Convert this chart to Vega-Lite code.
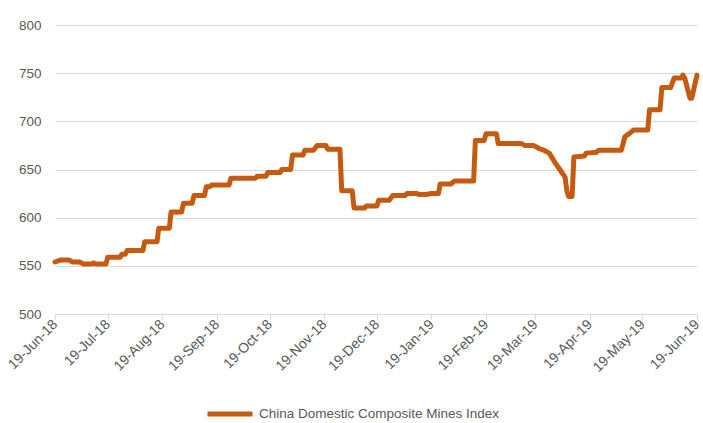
{
  "$schema": "https://vega.github.io/schema/vega-lite/v6.json",
  "width": 642,
  "height": 289,
  "autosize": {"type": "none"},
  "padding": {"left": 55, "top": 25, "right": 6, "bottom": 109},
  "background": "white",
  "config": {"view": {"stroke": null}, "font": "Liberation Sans"},
  "data": {"values": [
    {"date": "2018-06-19", "value": 554, "series": "China Domestic Composite Mines Index"},
    {"date": "2018-06-22", "value": 556, "series": "China Domestic Composite Mines Index"},
    {"date": "2018-06-27", "value": 556, "series": "China Domestic Composite Mines Index"},
    {"date": "2018-06-29", "value": 554, "series": "China Domestic Composite Mines Index"},
    {"date": "2018-07-03", "value": 554, "series": "China Domestic Composite Mines Index"},
    {"date": "2018-07-05", "value": 552, "series": "China Domestic Composite Mines Index"},
    {"date": "2018-07-10", "value": 552, "series": "China Domestic Composite Mines Index"},
    {"date": "2018-07-11", "value": 553, "series": "China Domestic Composite Mines Index"},
    {"date": "2018-07-12", "value": 552, "series": "China Domestic Composite Mines Index"},
    {"date": "2018-07-18", "value": 552, "series": "China Domestic Composite Mines Index"},
    {"date": "2018-07-19", "value": 559, "series": "China Domestic Composite Mines Index"},
    {"date": "2018-07-26", "value": 559, "series": "China Domestic Composite Mines Index"},
    {"date": "2018-07-27", "value": 562, "series": "China Domestic Composite Mines Index"},
    {"date": "2018-07-29", "value": 562, "series": "China Domestic Composite Mines Index"},
    {"date": "2018-07-30", "value": 566, "series": "China Domestic Composite Mines Index"},
    {"date": "2018-08-08", "value": 566, "series": "China Domestic Composite Mines Index"},
    {"date": "2018-08-09", "value": 575, "series": "China Domestic Composite Mines Index"},
    {"date": "2018-08-16", "value": 575, "series": "China Domestic Composite Mines Index"},
    {"date": "2018-08-17", "value": 589, "series": "China Domestic Composite Mines Index"},
    {"date": "2018-08-23", "value": 589, "series": "China Domestic Composite Mines Index"},
    {"date": "2018-08-24", "value": 606, "series": "China Domestic Composite Mines Index"},
    {"date": "2018-08-30", "value": 606, "series": "China Domestic Composite Mines Index"},
    {"date": "2018-08-31", "value": 615, "series": "China Domestic Composite Mines Index"},
    {"date": "2018-09-05", "value": 615, "series": "China Domestic Composite Mines Index"},
    {"date": "2018-09-06", "value": 623, "series": "China Domestic Composite Mines Index"},
    {"date": "2018-09-12", "value": 623, "series": "China Domestic Composite Mines Index"},
    {"date": "2018-09-13", "value": 632, "series": "China Domestic Composite Mines Index"},
    {"date": "2018-09-15", "value": 632, "series": "China Domestic Composite Mines Index"},
    {"date": "2018-09-16", "value": 634, "series": "China Domestic Composite Mines Index"},
    {"date": "2018-09-26", "value": 634, "series": "China Domestic Composite Mines Index"},
    {"date": "2018-09-27", "value": 641, "series": "China Domestic Composite Mines Index"},
    {"date": "2018-10-11", "value": 641, "series": "China Domestic Composite Mines Index"},
    {"date": "2018-10-12", "value": 643, "series": "China Domestic Composite Mines Index"},
    {"date": "2018-10-17", "value": 643, "series": "China Domestic Composite Mines Index"},
    {"date": "2018-10-18", "value": 647, "series": "China Domestic Composite Mines Index"},
    {"date": "2018-10-25", "value": 647, "series": "China Domestic Composite Mines Index"},
    {"date": "2018-10-26", "value": 650, "series": "China Domestic Composite Mines Index"},
    {"date": "2018-10-31", "value": 650, "series": "China Domestic Composite Mines Index"},
    {"date": "2018-11-01", "value": 665, "series": "China Domestic Composite Mines Index"},
    {"date": "2018-11-07", "value": 665, "series": "China Domestic Composite Mines Index"},
    {"date": "2018-11-08", "value": 670, "series": "China Domestic Composite Mines Index"},
    {"date": "2018-11-13", "value": 670, "series": "China Domestic Composite Mines Index"},
    {"date": "2018-11-15", "value": 675, "series": "China Domestic Composite Mines Index"},
    {"date": "2018-11-20", "value": 675, "series": "China Domestic Composite Mines Index"},
    {"date": "2018-11-21", "value": 671, "series": "China Domestic Composite Mines Index"},
    {"date": "2018-11-28", "value": 671, "series": "China Domestic Composite Mines Index"},
    {"date": "2018-11-29", "value": 628, "series": "China Domestic Composite Mines Index"},
    {"date": "2018-12-05", "value": 628, "series": "China Domestic Composite Mines Index"},
    {"date": "2018-12-06", "value": 610, "series": "China Domestic Composite Mines Index"},
    {"date": "2018-12-12", "value": 610, "series": "China Domestic Composite Mines Index"},
    {"date": "2018-12-13", "value": 612, "series": "China Domestic Composite Mines Index"},
    {"date": "2018-12-19", "value": 612, "series": "China Domestic Composite Mines Index"},
    {"date": "2018-12-20", "value": 618, "series": "China Domestic Composite Mines Index"},
    {"date": "2018-12-26", "value": 618, "series": "China Domestic Composite Mines Index"},
    {"date": "2018-12-28", "value": 623, "series": "China Domestic Composite Mines Index"},
    {"date": "2019-01-04", "value": 623, "series": "China Domestic Composite Mines Index"},
    {"date": "2019-01-05", "value": 625, "series": "China Domestic Composite Mines Index"},
    {"date": "2019-01-11", "value": 625, "series": "China Domestic Composite Mines Index"},
    {"date": "2019-01-12", "value": 624, "series": "China Domestic Composite Mines Index"},
    {"date": "2019-01-16", "value": 624, "series": "China Domestic Composite Mines Index"},
    {"date": "2019-01-19", "value": 625, "series": "China Domestic Composite Mines Index"},
    {"date": "2019-01-23", "value": 625, "series": "China Domestic Composite Mines Index"},
    {"date": "2019-01-24", "value": 635, "series": "China Domestic Composite Mines Index"},
    {"date": "2019-01-30", "value": 635, "series": "China Domestic Composite Mines Index"},
    {"date": "2019-02-01", "value": 638, "series": "China Domestic Composite Mines Index"},
    {"date": "2019-02-12", "value": 638, "series": "China Domestic Composite Mines Index"},
    {"date": "2019-02-13", "value": 680, "series": "China Domestic Composite Mines Index"},
    {"date": "2019-02-18", "value": 680, "series": "China Domestic Composite Mines Index"},
    {"date": "2019-02-19", "value": 687, "series": "China Domestic Composite Mines Index"},
    {"date": "2019-02-25", "value": 687, "series": "China Domestic Composite Mines Index"},
    {"date": "2019-02-26", "value": 677, "series": "China Domestic Composite Mines Index"},
    {"date": "2019-03-11", "value": 677, "series": "China Domestic Composite Mines Index"},
    {"date": "2019-03-13", "value": 675, "series": "China Domestic Composite Mines Index"},
    {"date": "2019-03-18", "value": 675, "series": "China Domestic Composite Mines Index"},
    {"date": "2019-03-21", "value": 672, "series": "China Domestic Composite Mines Index"},
    {"date": "2019-03-24", "value": 670, "series": "China Domestic Composite Mines Index"},
    {"date": "2019-03-27", "value": 667, "series": "China Domestic Composite Mines Index"},
    {"date": "2019-03-30", "value": 658, "series": "China Domestic Composite Mines Index"},
    {"date": "2019-04-02", "value": 650, "series": "China Domestic Composite Mines Index"},
    {"date": "2019-04-05", "value": 642, "series": "China Domestic Composite Mines Index"},
    {"date": "2019-04-06", "value": 628, "series": "China Domestic Composite Mines Index"},
    {"date": "2019-04-07", "value": 622, "series": "China Domestic Composite Mines Index"},
    {"date": "2019-04-09", "value": 622, "series": "China Domestic Composite Mines Index"},
    {"date": "2019-04-10", "value": 663, "series": "China Domestic Composite Mines Index"},
    {"date": "2019-04-16", "value": 664, "series": "China Domestic Composite Mines Index"},
    {"date": "2019-04-17", "value": 667, "series": "China Domestic Composite Mines Index"},
    {"date": "2019-04-23", "value": 668, "series": "China Domestic Composite Mines Index"},
    {"date": "2019-04-24", "value": 670, "series": "China Domestic Composite Mines Index"},
    {"date": "2019-05-07", "value": 670, "series": "China Domestic Composite Mines Index"},
    {"date": "2019-05-09", "value": 684, "series": "China Domestic Composite Mines Index"},
    {"date": "2019-05-12", "value": 688, "series": "China Domestic Composite Mines Index"},
    {"date": "2019-05-14", "value": 691, "series": "China Domestic Composite Mines Index"},
    {"date": "2019-05-22", "value": 691, "series": "China Domestic Composite Mines Index"},
    {"date": "2019-05-23", "value": 712, "series": "China Domestic Composite Mines Index"},
    {"date": "2019-05-29", "value": 712, "series": "China Domestic Composite Mines Index"},
    {"date": "2019-05-30", "value": 735, "series": "China Domestic Composite Mines Index"},
    {"date": "2019-06-04", "value": 735, "series": "China Domestic Composite Mines Index"},
    {"date": "2019-06-06", "value": 745, "series": "China Domestic Composite Mines Index"},
    {"date": "2019-06-10", "value": 745, "series": "China Domestic Composite Mines Index"},
    {"date": "2019-06-11", "value": 748, "series": "China Domestic Composite Mines Index"},
    {"date": "2019-06-12", "value": 745, "series": "China Domestic Composite Mines Index"},
    {"date": "2019-06-15", "value": 724, "series": "China Domestic Composite Mines Index"},
    {"date": "2019-06-16", "value": 724, "series": "China Domestic Composite Mines Index"},
    {"date": "2019-06-19", "value": 748, "series": "China Domestic Composite Mines Index"}
  ]},
  "mark": {"type": "line", "strokeWidth": 5, "strokeJoin": "round", "strokeCap": "round"},
  "encoding": {
    "x": {
      "field": "date", "type": "temporal",
      "scale": {"type": "utc", "domain": [{"year": 2018, "month": 6, "date": 19, "utc": true}, {"year": 2019, "month": 6, "date": 19, "utc": true}]},
      "axis": {
        "title": null,
        "grid": false,
        "values": [
          {"year": 2018, "month": 6, "date": 19, "utc": true},
          {"year": 2018, "month": 7, "date": 19, "utc": true},
          {"year": 2018, "month": 8, "date": 19, "utc": true},
          {"year": 2018, "month": 9, "date": 19, "utc": true},
          {"year": 2018, "month": 10, "date": 19, "utc": true},
          {"year": 2018, "month": 11, "date": 19, "utc": true},
          {"year": 2018, "month": 12, "date": 19, "utc": true},
          {"year": 2019, "month": 1, "date": 19, "utc": true},
          {"year": 2019, "month": 2, "date": 19, "utc": true},
          {"year": 2019, "month": 3, "date": 19, "utc": true},
          {"year": 2019, "month": 4, "date": 19, "utc": true},
          {"year": 2019, "month": 5, "date": 19, "utc": true},
          {"year": 2019, "month": 6, "date": 19, "utc": true}
        ],
        "format": "%d-%b-%y",
        "labelAngle": -45,
        "labelAlign": "right",
        "labelBaseline": "middle",
        "labelFontSize": 14,
        "labelColor": "#595959",
        "labelPadding": 3,
        "labelOverlap": false,
        "labelBound": false,
        "labelFlush": false,
        "domainColor": "#d9d9d9",
        "domainWidth": 1,
        "tickColor": "#d9d9d9",
        "tickSize": 5
      }
    },
    "y": {
      "field": "value", "type": "quantitative",
      "scale": {"domain": [500, 800], "nice": false, "zero": false},
      "axis": {
        "title": null,
        "values": [500, 550, 600, 650, 700, 750, 800],
        "domain": false,
        "ticks": false,
        "labelFontSize": 13.5,
        "labelColor": "#595959",
        "labelPadding": 14,
        "gridColor": "#d9d9d9",
        "gridWidth": 1
      }
    },
    "color": {
      "field": "series", "type": "nominal",
      "scale": {"range": ["#C55A11"]},
      "legend": {
        "title": null,
        "orient": "none",
        "legendX": 150,
        "legendY": 364,
        "symbolType": "stroke",
        "symbolSize": 2025,
        "symbolStrokeWidth": 5,
        "labelFontSize": 13.5,
        "labelLimit": 0,
        "labelColor": "#595959",
        "labelOffset": 4
      }
    }
  }
}
